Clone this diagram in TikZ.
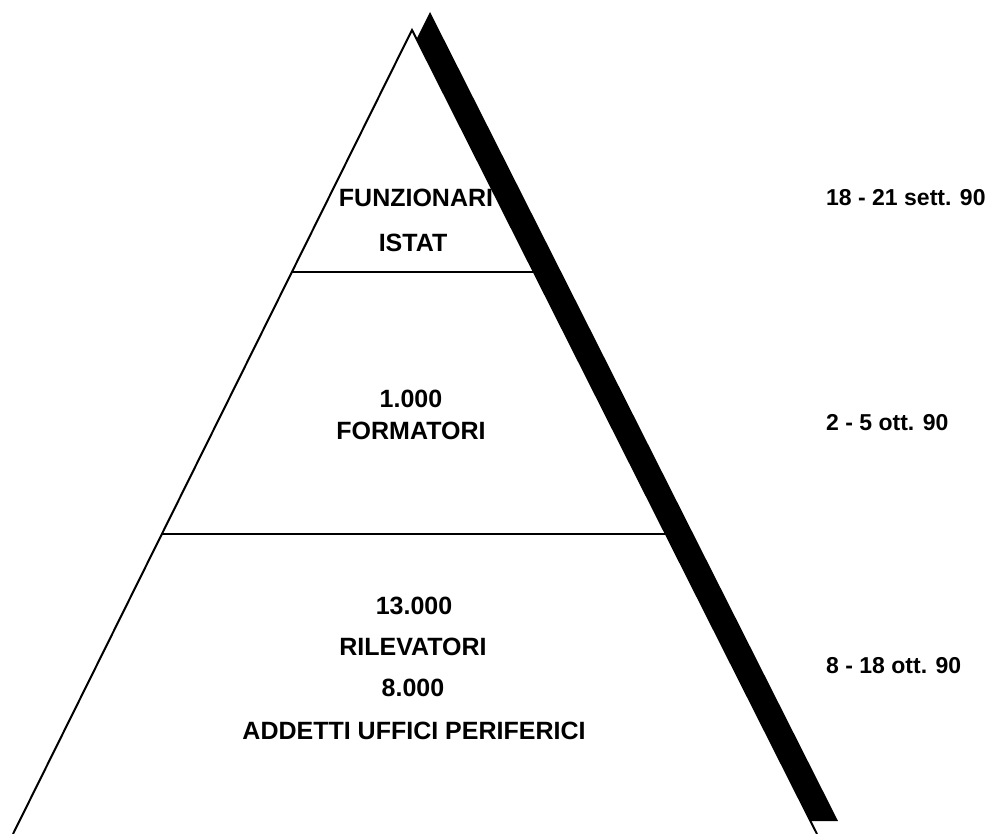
\documentclass[tikz,border=0pt]{standalone}
\usepackage{fontspec}
\setmainfont{Liberation Sans}
\begin{document}
\begin{tikzpicture}[x=1pt,y=-1pt,
  edge/.style={line width=2pt,line join=miter},
  tier/.style={line width=2pt},
  lab/.style={font=\fontsize{25}{29}\selectfont\bfseries,inner sep=0pt,anchor=center},
  when/.style={font=\fontsize{23}{27}\selectfont\bfseries,inner sep=0pt,anchor=west}]
\useasboundingbox (0,0) rectangle (986,834);
\clip (0,0) rectangle (986,834);

% outline points of the pyramid
\coordinate (apex) at (412,30);
\coordinate (bl) at (13,834);
\coordinate (br) at (817,834);

% black shadow band along the right side
\fill[black] (430,12) -- (838,821) -- (810.7,821) -- (416.6,39) -- cycle;

% pyramid sides
\draw[edge] (bl) -- (apex) -- (br);

% tier dividers, running from side to side
\coordinate (t1l) at (292,272);
\coordinate (t1r) at (534,272);
\coordinate (t2l) at (162,534);
\coordinate (t2r) at (666,534);
\draw[tier] (t1l) -- (t1r);
\draw[tier] (t2l) -- (t2r);

% tier labels
\node[lab] (funz) at (416,198) {FUNZIONARI};
\node[lab] (istat) at (413,243) {ISTAT};
\node[lab] (n1000) at (411,399) {1.000};
\node[lab] (form) at (411,431) {FORMATORI};
\node[lab] (n13000) at (414,606) {13.000};
\node[lab] (ril) at (413,647) {RILEVATORI};
\node[lab] (n8000) at (413,688) {8.000};
\node[lab] (add) at (414,731) {ADDETTI UFFICI PERIFERICI};

% dates
\node[when] (d1) at (826,198) {18 - 21 sett. 90};
\node[when] (d2) at (826,423) {2 - 5 ott. 90};
\node[when] (d3) at (826,666) {8 - 18 ott. 90};
\end{tikzpicture}
\end{document}
